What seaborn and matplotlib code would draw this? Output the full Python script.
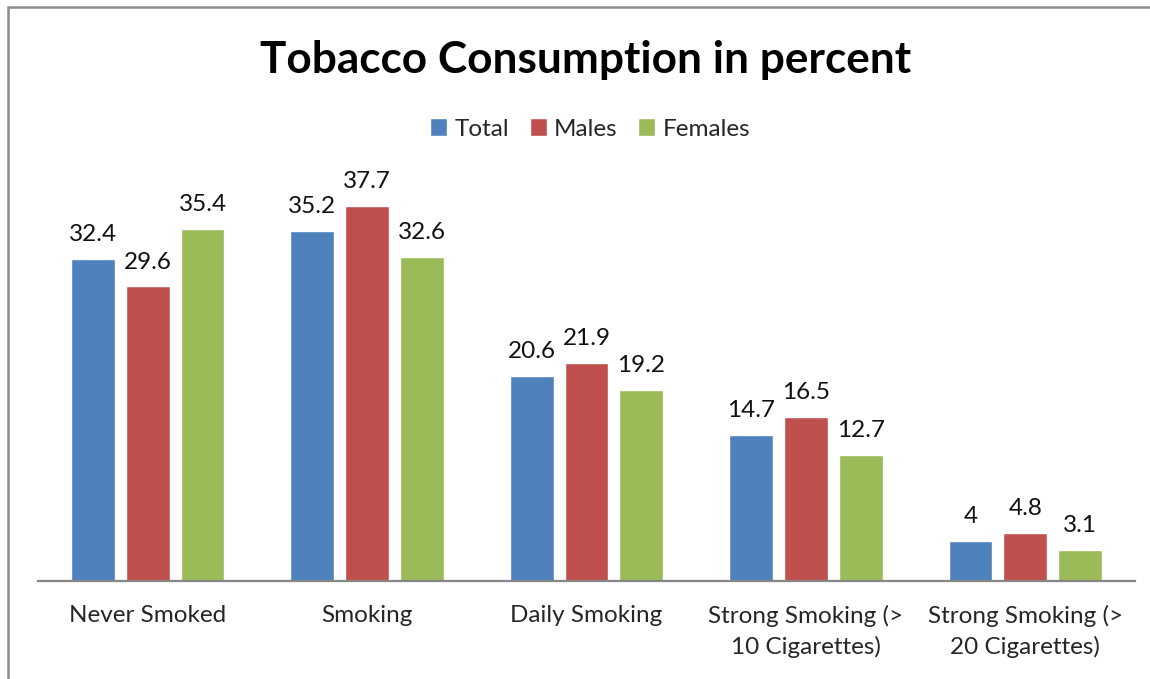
import matplotlib
matplotlib.use("Agg")
import matplotlib.pyplot as plt
from matplotlib.patches import Rectangle
import seaborn as sns
import pandas as pd

categories = ["Never Smoked", "Smoking", "Daily Smoking",
              "Strong Smoking (>\n10 Cigarettes)", "Strong Smoking (>\n20 Cigarettes)"]
groups = ["Total", "Males", "Females"]
total = [32.4, 35.2, 20.6, 14.7, 4.0]
males = [29.6, 37.7, 21.9, 16.5, 4.8]
females = [35.4, 32.6, 19.2, 12.7, 3.1]
colors = ["#4F81BD", "#C0504D", "#9BBB59"]

rows = []
for g, vals in zip(groups, [total, males, females]):
    for c, v in zip(categories, vals):
        rows.append({"category": c, "group": g, "value": v})
df = pd.DataFrame(rows)

sns.set_style("white")
plt.rcParams["font.family"] = ["Lato", "DejaVu Sans"]

W, H = 1150, 679
fig = plt.figure(figsize=(W / 100, H / 100), dpi=100)
ax = fig.add_axes([38 / W, (H - 581) / H, (1135 - 38) / W, (581 - 183) / H])

sns.barplot(data=df, x="category", y="value", hue="group", order=categories,
            hue_order=groups, palette=colors, width=0.75, gap=0.2,
            saturation=1, ax=ax, legend=False, errorbar=None)

ax.set_ylim(0, 40)
ax.set_xlim(-0.5, 4.5)
ax.set_xlabel("")
ax.set_ylabel("")
ax.set_yticks([])
for s in ["left", "right", "top"]:
    ax.spines[s].set_visible(False)
ax.spines["bottom"].set_color("#868686")
ax.spines["bottom"].set_linewidth(1.6)
ax.tick_params(axis="x", length=0, pad=17, labelsize=17.5)
for lbl in ax.get_xticklabels():
    lbl.set_linespacing(1.5)
    lbl.set_va("top")

for cont in ax.containers:
    ax.bar_label(cont, fmt="%g", padding=10, fontsize=17.5, color="#111111")

handles = [Rectangle((0, 0), 1, 1, facecolor=c) for c in colors]
fig.legend(handles, groups, loc="center", bbox_to_anchor=(590 / W, (H - 129) / H),
           ncol=3, frameon=False, fontsize=17.5, handlelength=0.7, handleheight=0.7,
           handletextpad=0.3, columnspacing=0.85)

fig.text(586 / W, (H - 60) / H, "Tobacco Consumption in percent", ha="center",
         va="center", fontsize=31.8, fontweight="bold", color="#000000")

# outer chart frame
fig.patches.append(Rectangle((8 / W, -0.1), 1.2, (H - 7) / H + 0.1,
                             transform=fig.transFigure, fill=False,
                             edgecolor="#8c8c8c", linewidth=1.8))

fig.savefig("out.png", dpi=100)
